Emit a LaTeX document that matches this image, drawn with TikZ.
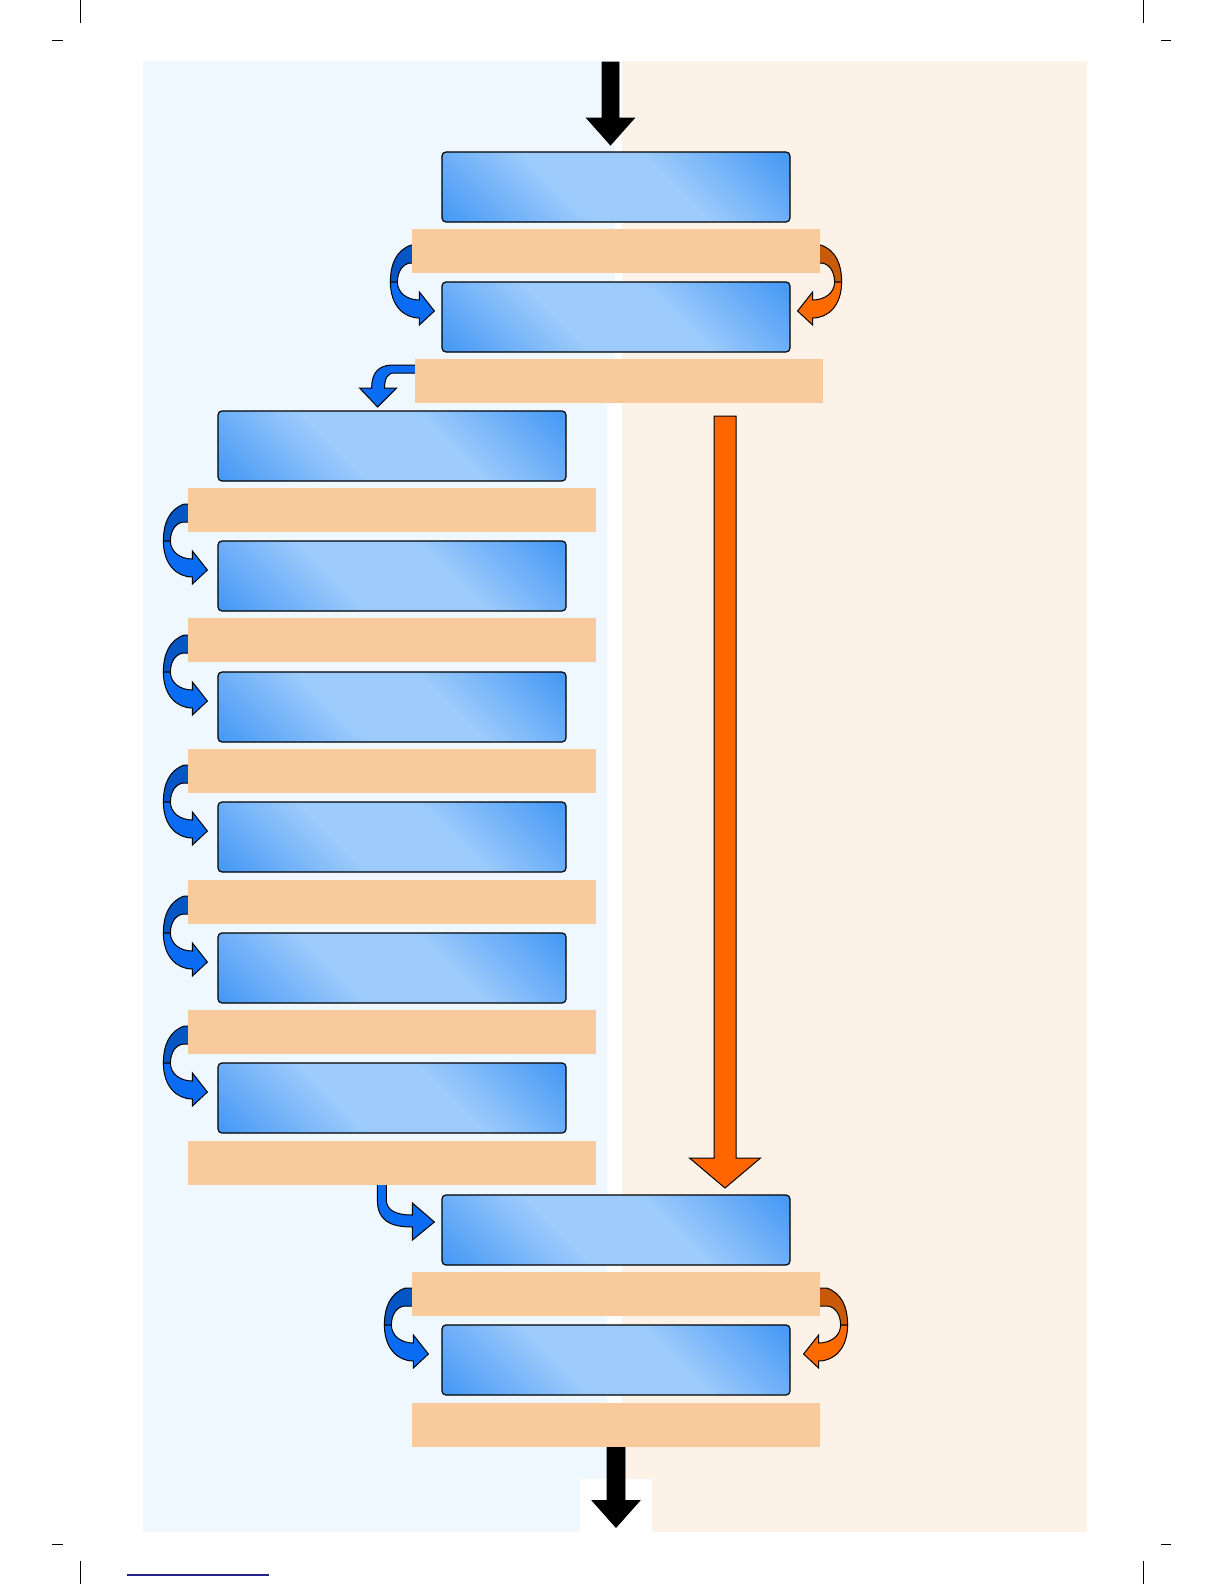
\documentclass[tikz,border=0pt]{standalone}
\usepackage{xcolor}
\usepackage{tikz}
\usetikzlibrary{calc}
\definecolor{BgBlue}{HTML}{EEF8FE}
\definecolor{BgPeach}{HTML}{FDF2E8}
\definecolor{BarOrange}{HTML}{F9CA9C}
\definecolor{BoxLight}{HTML}{9DCBFC}
\definecolor{BoxDark}{HTML}{3A92F4}
\definecolor{TurnBlue}{HTML}{0A6CF2}
\definecolor{TurnBlueBack}{HTML}{0556C4}
\definecolor{TurnOrange}{HTML}{FF6A00}
\definecolor{TurnOrangeBack}{HTML}{C95A0A}
\definecolor{SkipOrange}{HTML}{FF6600}
\definecolor{Navy}{HTML}{22228A}
\pgfdeclareverticalshading{glass}{100bp}{color(0bp)=(BoxDark); color(12bp)=(BoxDark); color(40bp)=(BoxLight); color(60bp)=(BoxLight); color(88bp)=(BoxDark); color(100bp)=(BoxDark)}
\pgfdeclarelayer{back}
\pgfsetlayers{back,main}
% u-turn block arrow at a box side: anchor, xscale, xshift, front, back
\newcommand{\uturn}[5]{%
\begin{scope}[shift={(#1)},xscale=#2,xshift=#3]
\filldraw[fill=#5,arrowline] (-18,-72) -- (-30,-72) .. controls (-45,-67) and (-51,-53) .. (-51,-35) -- (-44,-35) .. controls (-44,-46) and (-38,-54) .. (-30,-54) -- (-18,-54) -- cycle;
\filldraw[fill=#4,arrowline] (-51,-35) .. controls (-51,-12) and (-38,1) .. (-22,1) -- (-22,8) -- (-7,-6) -- (-22,-25) -- (-22,-17) .. controls (-34,-17) and (-44,-24) .. (-44,-35) -- cycle;
\end{scope}}
% straight block arrow pointing down: start, shaft, half shaft, half head, head, style
\newcommand{\blockdown}[6]{%
\filldraw[#6] (#1) ++(-#3,0) -- ++(0,#2) -- ++({#3-#4},0) -- ++(#4,#5) -- ++(#4,-#5) -- ++({#3-#4},0) -- ++(0,-#2) -- cycle;}

\begin{document}
\begin{tikzpicture}[x=0.5bp,y=-0.5bp,
  stagebox/.style={draw=black,line width=0.6pt,rounded corners=2bp,shading=glass,shading angle=-45,minimum width=174bp,minimum height=35bp,inner sep=0pt},
  gapbar/.style={fill=BarOrange,minimum width=204bp,minimum height=22bp,inner sep=0pt},
  arrowline/.style={draw=black,line width=0.5pt},
  cropline/.style={black,line width=0.5bp}]
\useasboundingbox (0,0) rectangle (1224,1584);
% the two halves
\begin{pgfonlayer}{back}
\fill[BgBlue] (143,61) rectangle (615,404);
\fill[BgBlue] (143,404) rectangle (607,1532);
\fill[BgPeach] (622,61) rectangle (1087,1532);
\fill[white] (580,1479) rectangle (652,1533);
\end{pgfonlayer}
% crop marks
\draw[cropline] (80,0) -- (80,23) (52,40) -- (63,40);
\draw[cropline] (1143,0) -- (1143,23) (1161,40) -- (1171,40);
\draw[cropline] (80,1561) -- (80,1584) (52,1544) -- (63,1544);
\draw[cropline] (1143,1561) -- (1143,1584) (1161,1544) -- (1171,1544);
\draw[Navy,line width=0.6pt] (127,1575) -- (269,1575);

\node[stagebox] (box1) at (616,187) {};
\node[gapbar] (bar1) at (616,251) {};
\node[stagebox] (box2) at (616,317) {};
\node[gapbar] (bar2) at (619,381) {};
\node[stagebox] (box3) at (392,446) {};
\node[gapbar] (bar3) at (392,510) {};
\node[stagebox] (box4) at (392,576) {};
\node[gapbar] (bar4) at (392,640) {};
\node[stagebox] (box5) at (392,707) {};
\node[gapbar] (bar5) at (392,771) {};
\node[stagebox] (box6) at (392,837) {};
\node[gapbar] (bar6) at (392,902) {};
\node[stagebox] (box7) at (392,968) {};
\node[gapbar] (bar7) at (392,1032) {};
\node[stagebox] (box8) at (392,1098) {};
\node[gapbar] (bar8) at (392,1163) {};
\node[stagebox] (box9) at (616,1230) {};
\node[gapbar] (bar9) at (616,1294) {};
\node[stagebox] (box10) at (616,1360) {};
\node[gapbar] (bar10) at (616,1425) {};

% turning arrows, partly behind the bars
\begin{pgfonlayer}{back}
\uturn{box2.west}{1}{0bp}{TurnBlue}{TurnBlueBack}
\uturn{box2.east}{-1}{0bp}{TurnOrange}{TurnOrangeBack}
\uturn{box4.west}{1}{-1.5bp}{TurnBlue}{TurnBlueBack}
\uturn{box5.west}{1}{-1.5bp}{TurnBlue}{TurnBlueBack}
\uturn{box6.west}{1}{-1.5bp}{TurnBlue}{TurnBlueBack}
\uturn{box7.west}{1}{-1.5bp}{TurnBlue}{TurnBlueBack}
\uturn{box8.west}{1}{-1.5bp}{TurnBlue}{TurnBlueBack}
\uturn{box10.west}{1}{-3bp}{TurnBlue}{TurnBlueBack}
\uturn{box10.east}{-1}{-3bp}{TurnOrange}{TurnOrangeBack}
\begin{scope}[shift={(bar2.west)}]
\filldraw[fill=TurnBlue,arrowline] (10,-16) -- (-22,-16) .. controls (-36,-16) and (-43,-8) .. (-43,7) -- (-55,7) -- (-37,26) -- (-18,7) -- (-30,7) .. controls (-30,-3) and (-27,-8) .. (-20,-8) -- (10,-8) -- cycle;
\end{scope}
\begin{scope}[shift={(box9.west)}]
\filldraw[fill=TurnBlue,arrowline] (-64,-55) -- (-64,-30) .. controls (-64,-10) and (-52,-3) .. (-29,-3) -- (-29,10) -- (-7,-8) -- (-29,-27) -- (-29,-15) .. controls (-46,-15) and (-55,-20) .. (-55,-30) -- (-55,-55) -- cycle;
\end{scope}
\end{pgfonlayer}

% in, out and the long skip
\coordinate (in) at (610.5,62);
\blockdown{in}{56}{8.5}{24}{27}{black}
\blockdown{bar10.south}{53}{9}{24}{27}{black}
\coordinate (skip) at (725,416);
\blockdown{skip}{742}{11}{35.5}{30}{fill=SkipOrange,draw=black,line width=0.5pt}
\end{tikzpicture}
\end{document}
